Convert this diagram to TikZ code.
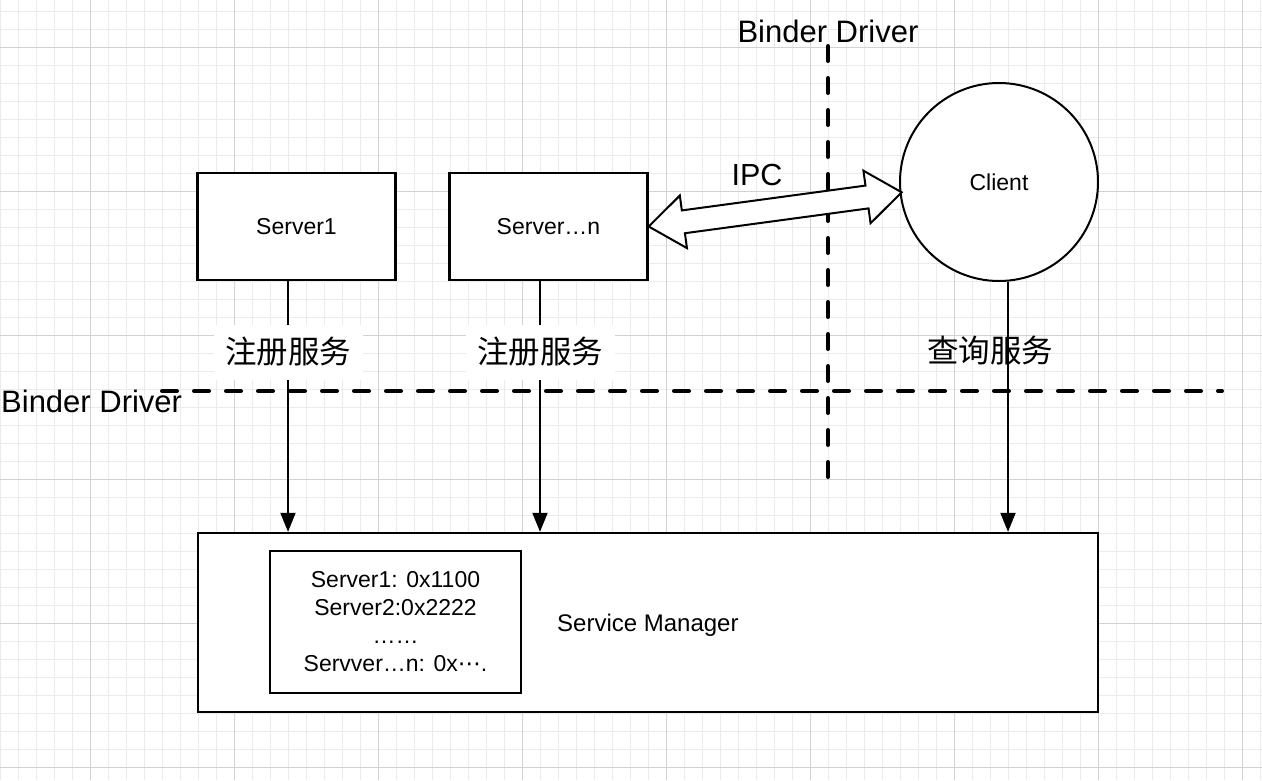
\documentclass[tikz,border=0pt]{standalone}
\usepackage{fontspec}
\setmainfont{Liberation Sans}
\newfontfamily\cjkfont{Noto Sans CJK SC}
\newfontfamily\dvfont{DejaVu Sans}
\usetikzlibrary{arrows.meta}
\definecolor{gridminor}{HTML}{EBEBEB}
\definecolor{gridmajor}{HTML}{D2D2D2}
\begin{document}
\begin{tikzpicture}[x=1pt,y=-1pt,
  minorgrid/.style={draw=gridminor,line width=1pt},
  majorgrid/.style={draw=gridmajor,line width=1pt},
  box/.style={draw=black,fill=white,line width=2.4pt,rectangle,inner sep=0pt},
  smalltxt/.style={font=\fontsize{23}{28}\selectfont},
  bigtxt/.style={font=\fontsize{31}{36}\selectfont,inner sep=0pt},
  cjklabel/.style={font=\cjkfont\fontsize{31.5}{34}\selectfont,inner sep=0pt},
  regbg/.style={fill=white,minimum width=149pt,minimum height=55pt},
  divider/.style={line width=4pt,line cap=round,dash pattern=on 15pt off 17pt},
  conn/.style={line width=2pt,-{Triangle[length=19pt,width=15pt]}},
  ipcarrow/.style={draw=black,fill=white,line width=2pt,line join=miter}
]
\useasboundingbox (0,0) rectangle (1262,780);
\fill[white] (0,0) rectangle (1262,780);
% grid
\foreach \x in {0,18,...,1260} \draw[minorgrid] (\x,0) -- (\x,780);
\foreach \y in {11,29,...,779} \draw[minorgrid] (0,\y) -- (1262,\y);
\foreach \x in {90,234,...,1242} \draw[majorgrid] (\x,0) -- (\x,780);
\foreach \y in {47,191,...,767} \draw[majorgrid] (0,\y) -- (1262,\y);

% binder driver dividers
\coordinate (vtop) at (828,46);
\coordinate (vbot) at (828,480);
\coordinate (hleft) at (162,391);
\coordinate (hright) at (1222,391);
\draw[divider] (vtop) -- (vbot);
\draw[divider] (hleft) -- (hright);

% boxes
\node[box,minimum width=198pt,minimum height=107pt,smalltxt] (srv1) at (296.5,226.5) {Server1};
\node[box,minimum width=198pt,minimum height=107pt,smalltxt] (srvn) at (548.5,226.5) {Server…n};
\node[draw=black,fill=white,circle,line width=2pt,minimum size=198pt,inner sep=0pt,smalltxt] (client) at (999,182) {Client};
\node[box,minimum width=900pt,minimum height=179pt] (sm) at (648,622.5) {};
\node[box,minimum width=251pt,minimum height=142pt,align=center,smalltxt] (reg) at (395.5,622)
  {Server1: 0x1100\\Server2:0x2222\\……\\Servver…n: 0x{\dvfont ⋯}.};
\node[font=\fontsize{24}{28}\selectfont,anchor=base west,inner sep=0pt] (smtxt) at (557,631) {Service Manager};

% connectors
\coordinate (x1) at (288,0);
\coordinate (x2) at (540,0);
\coordinate (x3) at (1008,0);
\draw[conn] (srv1.south -| x1) -- (sm.north -| x1);
\draw[conn] (srvn.south -| x2) -- (sm.north -| x2);
\draw[conn] (client.south -| x3) -- (sm.north -| x3);

% labels
\node[cjklabel,regbg] (lab1) at (288,352) {注册服务};
\node[cjklabel,regbg] (lab2) at (540,352) {注册服务};
\node[cjklabel] (lab3) at (990,351) {查询服务};
\node[bigtxt,anchor=base] (bdtop) at (828,42) {Binder Driver};
\node[bigtxt,anchor=base west] (bdleft) at (1,412) {Binder Driver};
\node[font=\fontsize{30.5}{34}\selectfont,inner sep=0pt,anchor=base] (ipc) at (757,185) {IPC};

% IPC double arrow
\coordinate (ipcL) at (srvn.east);
\coordinate (ipcR) at (client.186);
\begin{scope}[shift={(ipcL)},rotate=7.7]
\draw[ipcarrow] (0,0) -- (35,26.5) -- (35,11.5) -- (220.3,11.5) -- (220.3,26.5) -- (255.3,0)
  -- (220.3,-26.5) -- (220.3,-11.5) -- (35,-11.5) -- (35,-26.5) -- cycle;
\end{scope}
\end{tikzpicture}
\end{document}
